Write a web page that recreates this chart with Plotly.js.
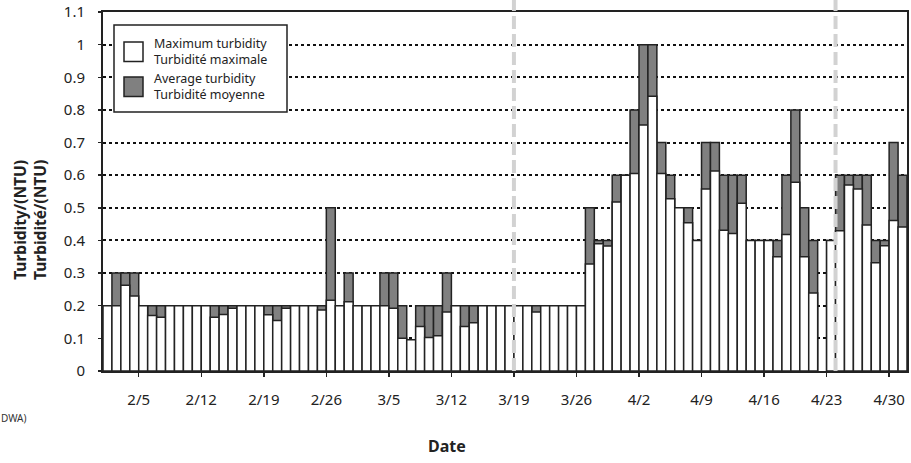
<!DOCTYPE html>
<html>
<head>
<meta charset="utf-8">
<script src="https://cdn.plot.ly/plotly-3.0.1.min.js"></script>
<style>html,body{margin:0;padding:0;background:#fff;}#chart{width:911px;height:463px;}</style>
</head>
<body>
<div id="chart"></div>
<script>
// Days shown: 2/1 .. 5/1 (one bar per day)
const startMonth = 2, startDay = 1, dayCount = 90;
const monthLengths = {2: 28, 3: 31, 4: 30, 5: 31};
const dates = [];
(function () {
  let m = startMonth, d = startDay;
  for (let i = 0; i < dayCount; i++) {
    dates.push(m + '/' + d);
    d++;
    if (d > monthLengths[m]) { d = 1; m++; }
  }
})();

// Lower (white) bar heights – legend: Maximum turbidity
const whiteValues = [
  0.2, 0.2, 0.263, 0.23, 0.2, 0.17, 0.165, 0.2, 0.2, 0.2,
  0.2, 0.2, 0.165, 0.173, 0.192, 0.2, 0.2, 0.2, 0.172, 0.155,
  0.192, 0.2, 0.2, 0.2, 0.187, 0.217, 0.2, 0.212, 0.2, 0.2,
  0.2, 0.2, 0.192, 0.1, 0.096, 0.136, 0.103, 0.108, 0.181, 0.2,
  0.136, 0.148, 0.2, 0.2, 0.2, 0.2, 0.2, 0.2, 0.181, 0.2,
  0.2, 0.2, 0.2, 0.2, 0.328, 0.39, 0.383, 0.518, 0.6, 0.605,
  0.754, 0.842, 0.605, 0.528, 0.5, 0.454, 0.4, 0.558, 0.613, 0.431,
  0.421, 0.514, 0.4, 0.4, 0.4, 0.35, 0.418, 0.578, 0.35, 0.239,
  null, 0.4, 0.43, 0.57, 0.558, 0.447, 0.332, 0.384, 0.461, 0.441
];
// Upper (grey) bar heights – legend: Average turbidity
const greyValues = [
  0.2, 0.3, 0.3, 0.3, 0.2, 0.2, 0.2, 0.2, 0.2, 0.2,
  0.2, 0.2, 0.2, 0.2, 0.2, 0.2, 0.2, 0.2, 0.2, 0.2,
  0.2, 0.2, 0.2, 0.2, 0.2, 0.5, 0.2, 0.3, 0.2, 0.2,
  0.2, 0.3, 0.3, 0.2, 0.096, 0.2, 0.2, 0.2, 0.3, 0.2,
  0.2, 0.2, 0.2, 0.2, 0.2, 0.2, 0.2, 0.2, 0.2, 0.2,
  0.2, 0.2, 0.2, 0.2, 0.5, 0.4, 0.4, 0.6, 0.6, 0.8,
  1.0, 1.0, 0.7, 0.6, 0.5, 0.5, 0.4, 0.7, 0.7, 0.6,
  0.6, 0.6, 0.4, 0.4, 0.4, 0.4, 0.6, 0.8, 0.5, 0.4,
  null, 0.4, 0.6, 0.6, 0.6, 0.6, 0.4, 0.4, 0.7, 0.6
];

const xTickLabels = ['2/5','2/12','2/19','2/26','3/5','3/12','3/19','3/26','4/2','4/9','4/16','4/23','4/30'];
const yTickValues = [0, 0.1, 0.2, 0.3, 0.4, 0.5, 0.6, 0.7, 0.8, 0.9, 1.0, 1.1];
const yTickLabels = ['0','0.1','0.2','0.3','0.4','0.5','0.6','0.7','0.8','0.9','1','1.1'];
const markerDates = ['3/19', '4/24'];

const seriesNames = ['Maximum turbidity<br>Turbidité maximale', 'Average turbidity<br>Turbidité moyenne'];

const xIdx = dates.map((d, i) => i);
const tickPos = xTickLabels.map(l => dates.indexOf(l) - 0.5);

const outline = {color: '#222', width: 1.5};
const traces = [
  {type: 'bar', x: xIdx, y: greyValues, name: seriesNames[1], marker: {color: '#808080', line: outline}, showlegend: false, hoverinfo: 'skip'},
  {type: 'bar', x: xIdx, y: whiteValues, name: seriesNames[0], marker: {color: '#ffffff', line: outline}, showlegend: false, hoverinfo: 'skip'}
];

const W = 911, H = 463, L = 103, R = 4, T = 12, B = 92;
const pw = W - L - R, ph = H - T - B;
const px = v => (v - L) / pw;
const py = v => (H - B - v) / ph;

const shapes = [];
markerDates.forEach(d => {
  shapes.push({type: 'line', xref: 'x', yref: 'paper', x0: dates.indexOf(d) - 0.5, x1: dates.indexOf(d) - 0.5,
    y0: 0, y1: py(-2), line: {color: '#d2d2d2', width: 4, dash: '13px,5px'}, layer: 'above'});
});
// legend box
shapes.push({type: 'rect', xref: 'paper', yref: 'paper', x0: px(114), x1: px(287), y0: py(112), y1: py(25),
  line: {color: '#222', width: 1.5}, fillcolor: '#ffffff', layer: 'above'});
shapes.push({type: 'rect', xref: 'paper', yref: 'paper', x0: px(124), x1: px(143), y0: py(61.5), y1: py(42),
  line: {color: '#222', width: 1.5}, fillcolor: '#ffffff', layer: 'above'});
shapes.push({type: 'rect', xref: 'paper', yref: 'paper', x0: px(124), x1: px(143), y0: py(96.5), y1: py(77),
  line: {color: '#222', width: 1.5}, fillcolor: '#808080', layer: 'above'});

const annFont = {family: 'Noto Sans, sans-serif', size: 12.5, color: '#222'};
const annotations = [
  {xref: 'paper', yref: 'paper', x: px(152), y: py(51), xanchor: 'left', yanchor: 'middle', align: 'left',
    text: seriesNames[0], showarrow: false, font: annFont},
  {xref: 'paper', yref: 'paper', x: px(152), y: py(86), xanchor: 'left', yanchor: 'middle', align: 'left',
    text: seriesNames[1], showarrow: false, font: annFont},
  {xref: 'paper', yref: 'paper', x: px(30), y: py(220), xanchor: 'center', yanchor: 'middle', textangle: -90,
    text: '<b>Turbidity/(NTU)</b><br><b>Turbidité/(NTU)</b>', showarrow: false,
    font: {family: 'Noto Sans, sans-serif', size: 15.5, color: '#222'}},
  {xref: 'paper', yref: 'paper', x: px(447), y: py(446), xanchor: 'center', yanchor: 'middle',
    text: '<b>Date</b>', showarrow: false, font: {family: 'Noto Sans, sans-serif', size: 16, color: '#222'}},
  {xref: 'paper', yref: 'paper', x: px(29), y: py(418), xanchor: 'right', yanchor: 'middle',
    text: 'DWA)', showarrow: false, font: {family: 'Noto Sans, sans-serif', size: 10, color: '#333'}}
];

const layout = {
  width: W, height: H,
  margin: {l: L, r: R, t: T, b: B, pad: 0},
  paper_bgcolor: '#ffffff', plot_bgcolor: '#ffffff',
  barmode: 'overlay', bargap: 0,
  showlegend: false,
  xaxis: {
    range: [-0.5, dayCount - 0.5], tickmode: 'array', tickvals: tickPos, ticktext: xTickLabels,
    showgrid: false, zeroline: false, showline: true, linecolor: '#222', linewidth: 2, mirror: true,
    ticks: 'outside', ticklen: 4, tickwidth: 1.5, tickcolor: '#222', ticklabelstandoff: 10,
    tickfont: {family: 'Noto Sans, sans-serif', size: 15, color: '#222'}, fixedrange: true
  },
  yaxis: {
    range: [0, 1.1], tickmode: 'array', tickvals: yTickValues, ticktext: yTickLabels,
    showgrid: true, gridcolor: '#111', gridwidth: 2, griddash: '3px,3px',
    zeroline: false, showline: true, linecolor: '#222', linewidth: 2, mirror: true,
    ticks: 'outside', ticklen: 3, tickwidth: 1.5, tickcolor: '#222', ticklabelstandoff: 10,
    tickfont: {family: 'Noto Sans, sans-serif', size: 15, color: '#222'}, fixedrange: true
  },
  shapes: shapes,
  annotations: annotations
};

Plotly.newPlot('chart', traces, layout, {staticPlot: true, displayModeBar: false});
</script>
</body>
</html>
